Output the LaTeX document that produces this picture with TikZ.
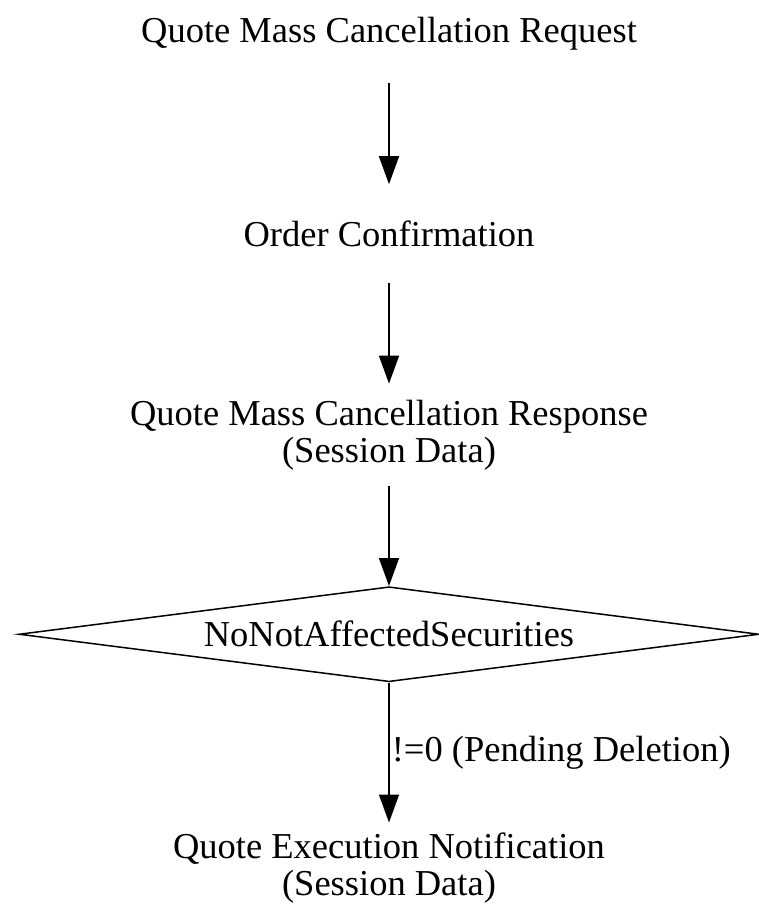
\documentclass[tikz,border=0pt]{standalone}
\usepackage{fontspec}
\setmainfont{Liberation Serif}
\usetikzlibrary{positioning,arrows.meta,shapes.geometric}

\begin{document}
\begin{tikzpicture}[x=1pt,y=-1pt,node distance=101pt,font=\fontsize{36.5}{37}\selectfont,
 t/.style={align=center,inner sep=0pt,minimum height=98pt},
 d/.style={diamond,draw,line width=1.5pt,minimum width=740pt,minimum height=95pt,aspect=7.8,inner sep=0pt},
 a/.style={-{Triangle[length=28pt,width=20pt]},line width=1.6pt}]
\useasboundingbox (0,0) rectangle (759,904);
\node[t] (req) at (389,34) {Quote Mass Cancellation Request};
\node[t,below=of req] (conf) {Order Confirmation};
\node[t,below=of conf,minimum height=102pt] (resp) {Quote Mass Cancellation Response\\(Session Data)};
\node[d,below=100pt of resp] (nona) {NoNotAffectedSecurities};
\node[t,below=140pt of nona,minimum height=90pt] (exec) {Quote Execution Notification\\(Session Data)};
\draw[a] (req)--(conf);
\draw[a] (conf)--(resp);
\draw[a] (resp)--(nona);
\draw[a] (nona)--node[right,inner sep=2pt]{!=0 (Pending Deletion)} (exec);
\end{tikzpicture}
\end{document}
